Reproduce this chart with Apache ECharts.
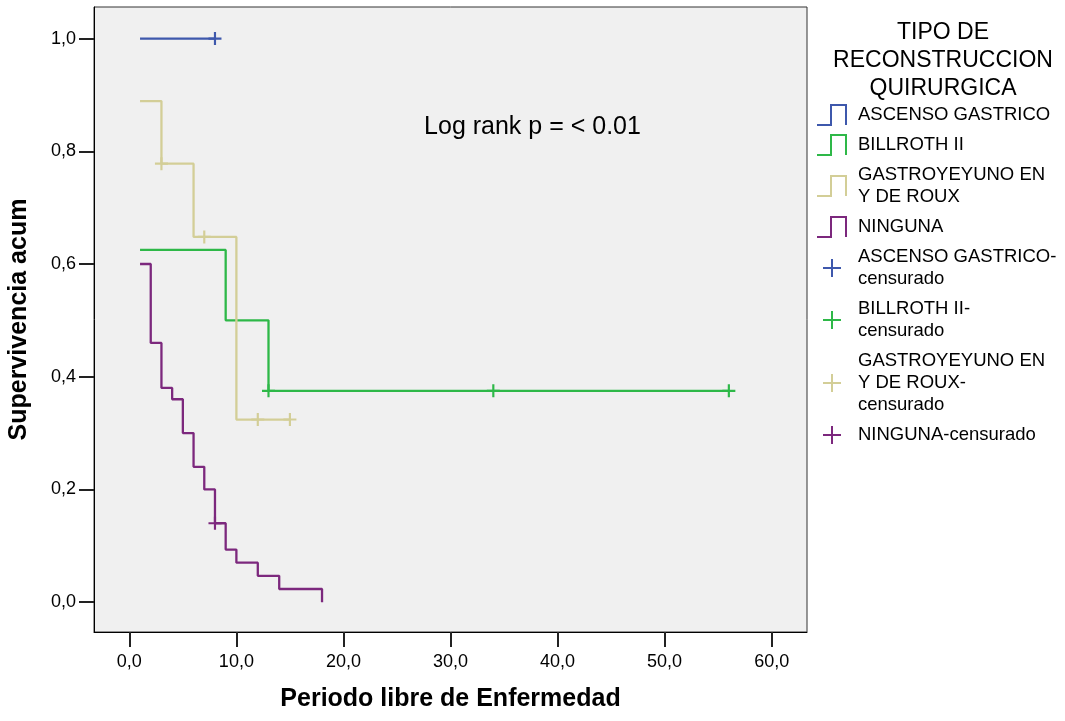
<!DOCTYPE html>
<html><head><meta charset="utf-8">
<script src="https://cdn.jsdelivr.net/npm/echarts@6/dist/echarts.min.js"></script>
<style>html,body{margin:0;padding:0;background:#fff}#c{width:1065px;height:721px}</style>
</head><body><div id="c"></div>
<script>
// ---- data ----
const seriesNames = ['ASCENSO GASTRICO', 'BILLROTH II', 'GASTROYEYUNO EN Y DE ROUX', 'NINGUNA'];
const censoredNames = ['ASCENSO GASTRICO-censurado', 'BILLROTH II-censurado', 'GASTROYEYUNO EN Y DE ROUX-censurado', 'NINGUNA-censurado'];
const legendLabels = {
  'ASCENSO GASTRICO': 'ASCENSO GASTRICO',
  'BILLROTH II': 'BILLROTH II',
  'GASTROYEYUNO EN Y DE ROUX': 'GASTROYEYUNO EN\nY DE ROUX',
  'NINGUNA': 'NINGUNA',
  'ASCENSO GASTRICO-censurado': 'ASCENSO GASTRICO-\ncensurado',
  'BILLROTH II-censurado': 'BILLROTH II-\ncensurado',
  'GASTROYEYUNO EN Y DE ROUX-censurado': 'GASTROYEYUNO EN\nY DE ROUX-\ncensurado',
  'NINGUNA-censurado': 'NINGUNA-censurado'
};
const colors = ['#3E58AC', '#2EB848', '#D3CE97', '#7C287D'];

const ascensoCurve = [[1, 1.0], [8, 1.0]];
const billrothCurve = [[1, 0.625], [9, 0.5], [13, 0.375], [56, 0.375]];
const rouxCurve = [[1, 0.889], [3, 0.778], [6, 0.648], [10, 0.324], [15, 0.324]];
const ningunaCurve = [[1, 0.6], [2, 0.46], [3, 0.38], [4, 0.36], [5, 0.30], [6, 0.24], [7, 0.20], [8, 0.14], [9, 0.0933], [10, 0.07], [12, 0.0467], [14, 0.0233], [18, 0]];

const ascensoCensored = [[8, 1.0]];
const billrothCensored = [[13, 0.375], [34, 0.375], [56, 0.375]];
const rouxCensored = [[3, 0.778], [7, 0.648], [12, 0.324], [15, 0.324]];
const ningunaCensored = [[8, 0.14]];

const xTicks = [0, 10, 20, 30, 40, 50, 60];
const xTickLabels = ['0,0', '10,0', '20,0', '30,0', '40,0', '50,0', '60,0'];
const yTicks = [0, 0.2, 0.4, 0.6, 0.8, 1.0];
const yTickLabels = ['0,0', '0,2', '0,4', '0,6', '0,8', '1,0'];

const legendTitle = 'TIPO DE\nRECONSTRUCCION\nQUIRURGICA';
const annotation = 'Log rank p = < 0.01';
const xName = 'Periodo libre de Enfermedad';
const yName = 'Supervivencia acum';

// ---- chart ----
const FONT = "'Liberation Sans', Arial, sans-serif";
const stepIcon = 'path://M0,20 L13,20 L13,0 L30,0 L30,21 L28,21 L28,2 L15,2 L15,22 L0,22 Z';
const plusIconLegend = 'path://M0,0 M22,22 M10,2 h2 v8 h8 v2 h-8 v8 h-2 v-8 h-8 v-2 h8 Z';
const plusMark = 'path://M5,0 h2 v5 h5 v2 h-5 v5 h-2 v-5 h-5 v-2 h5 Z';

const curves = [ascensoCurve, billrothCurve, rouxCurve, ningunaCurve];
const censored = [ascensoCensored, billrothCensored, rouxCensored, ningunaCensored];

const series = [];
curves.forEach((d, i) => {
  series.push({
    name: seriesNames[i], type: 'line', step: 'end', data: d,
    symbol: 'none', color: colors[i],
    lineStyle: { width: 2.3, color: colors[i] }, z: 2
  });
});
censored.forEach((d, i) => {
  series.push({
    name: censoredNames[i], type: 'scatter', data: d,
    symbol: plusMark, symbolSize: 13, color: colors[i],
    itemStyle: { color: colors[i], opacity: 1 }, z: 3
  });
});

const legendData = seriesNames.map(n => ({ name: n, icon: stepIcon }))
  .concat(censoredNames.map(n => ({ name: n, icon: plusIconLegend })));

const chart = echarts.init(document.getElementById('c'), null, { renderer: 'canvas' });
chart.setOption({
  animation: false,
  backgroundColor: '#ffffff',
  grid: {
    left: 94, top: 7, width: 713, height: 625,
    containLabel: false, outerBoundsMode: 'none',
    show: true, backgroundColor: '#F0F0F0', borderColor: '#333333', borderWidth: 1
  },
  xAxis: {
    type: 'value', min: -3.3, max: 63.3,
    name: xName, nameLocation: 'middle', nameGap: 55,
    nameTextStyle: { fontFamily: FONT, fontWeight: 'bold', fontSize: 25, color: '#000' },
    axisLine: { show: true, onZero: false, lineStyle: { color: '#000', width: 1 } },
    axisTick: { show: true, length: 15, customValues: xTicks, lineStyle: { color: '#222', width: 2 } },
    axisLabel: {
      customValues: xTicks, margin: 21, fontFamily: FONT, fontSize: 18, color: '#000',
      formatter: v => xTickLabels[xTicks.indexOf(Math.round(v))]
    },
    splitLine: { show: false }
  },
  yAxis: {
    type: 'value', min: -0.053, max: 1.056,
    name: yName, nameLocation: 'middle', nameGap: 62,
    nameTextStyle: { fontFamily: FONT, fontWeight: 'bold', fontSize: 25, color: '#000' },
    axisLine: { show: true, onZero: false, lineStyle: { color: '#000', width: 1 } },
    axisTick: { show: true, length: 15, customValues: yTicks, lineStyle: { color: '#222', width: 2 } },
    axisLabel: {
      customValues: yTicks, margin: 18, fontFamily: FONT, fontSize: 18, color: '#000',
      formatter: v => yTickLabels[yTicks.findIndex(t => Math.abs(t - v) < 1e-6)]
    },
    splitLine: { show: false }
  },
  legend: {
    orient: 'vertical', left: 817, top: 104, padding: 0,
    itemWidth: 30, itemHeight: 22, itemGap: 8,
    selectedMode: false,
    itemStyle: { borderWidth: 0 },
    data: legendData,
    formatter: n => legendLabels[n],
    textStyle: { fontFamily: FONT, fontSize: 18.5, lineHeight: 22, color: '#000', padding: [0, 0, 0, 6] }
  },
  graphic: [
    {
      type: 'text', x: 943, y: 19, z: 10,
      style: { text: legendTitle, font: '23px ' + FONT, fill: '#000', align: 'center', verticalAlign: 'top', lineHeight: 28 }
    },
    {
      type: 'text', x: 532.5, y: 127, z: 10,
      style: { text: annotation, font: '25px ' + FONT, fill: '#000', align: 'center', verticalAlign: 'middle' }
    }
  ],
  series: series
});
</script>
</body></html>
